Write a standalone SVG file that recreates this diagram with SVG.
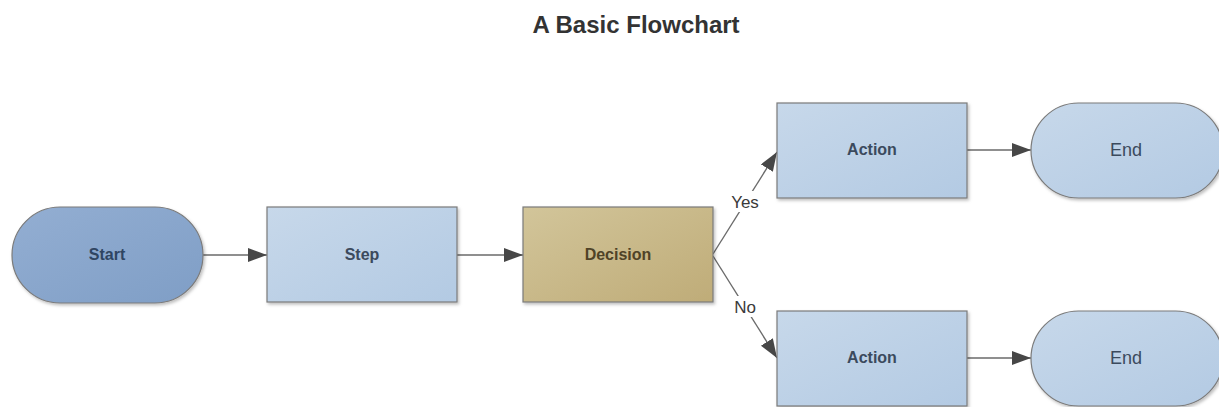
<svg xmlns="http://www.w3.org/2000/svg" width="1219" height="407" viewBox="0 0 1219 407">
<style>
.node{stroke:#7b7b7b;stroke-width:1.2}
.lbl{font-family:"Liberation Sans",Arial,sans-serif;font-size:16px;font-weight:bold;text-anchor:middle}
.conn{stroke:#6a6a6a;stroke-width:1.4;fill:none;marker-end:url(#arr)}
.elbl{font-family:"Liberation Sans",Arial,sans-serif;font-size:17px;fill:#3a3a3a;text-anchor:middle}
.title{font-family:"Liberation Sans",Arial,sans-serif;font-size:24px;font-weight:bold;fill:#333;text-anchor:middle}
</style>
<defs>
<linearGradient id="gStart" x1="0" y1="0" x2="1" y2="1"><stop offset="0" stop-color="#93aed2"/><stop offset="1" stop-color="#7f9ec6"/></linearGradient>
<linearGradient id="gBlue" x1="0" y1="0" x2="1" y2="1"><stop offset="0" stop-color="#c7d8ea"/><stop offset="1" stop-color="#b3cae3"/></linearGradient>
<linearGradient id="gDec" x1="0" y1="0" x2="1" y2="1"><stop offset="0" stop-color="#d2c59a"/><stop offset="1" stop-color="#bfac78"/></linearGradient>
<filter id="sh" x="-10%" y="-10%" width="125%" height="130%"><feDropShadow dx="1.5" dy="2" stdDeviation="1.5" flood-color="#000" flood-opacity="0.25"/></filter>
<marker id="arr" markerUnits="userSpaceOnUse" markerWidth="20" markerHeight="16" refX="19" refY="7" orient="auto"><path d="M0,0 L19,7 L0,14 z" fill="#474747"/></marker>
</defs>
<rect width="1219" height="407" fill="#fff"/>
<text class="title" x="636" y="33">A Basic Flowchart</text>
<g id="connectors">
<line class="conn" x1="203" y1="255" x2="267" y2="255"/>
<line class="conn" x1="457" y1="255" x2="523" y2="255"/>
<line class="conn" x1="713" y1="254" x2="777" y2="152"/>
<line class="conn" x1="713" y1="256" x2="777" y2="358"/>
<line class="conn" x1="967" y1="150" x2="1031" y2="150"/>
<line class="conn" x1="967" y1="358" x2="1031" y2="358"/>
<rect x="727" y="191" width="36" height="21" fill="#fff"/>
<text class="elbl" x="745" y="208">Yes</text>
<rect x="731" y="296" width="29" height="21" fill="#fff"/>
<text class="elbl" x="745" y="313">No</text>
</g>
<g id="start"><rect class="node" x="12" y="207" width="191" height="96" rx="48" fill="url(#gStart)" filter="url(#sh)"/><text class="lbl" x="107" y="260" fill="#2f4562">Start</text></g>
<g id="step"><rect class="node" x="267" y="207" width="190" height="95" fill="url(#gBlue)" filter="url(#sh)"/><text class="lbl" x="362" y="260" fill="#3b4a5d">Step</text></g>
<g id="decision"><rect class="node" x="523" y="207" width="190" height="95" fill="url(#gDec)" filter="url(#sh)"/><text class="lbl" x="618" y="260" fill="#4f4327">Decision</text></g>
<g id="action1"><rect class="node" x="777" y="103" width="190" height="95" fill="url(#gBlue)" filter="url(#sh)"/><text class="lbl" x="872" y="155" fill="#3b4a5d">Action</text></g>
<g id="action2"><rect class="node" x="777" y="311" width="190" height="95" fill="url(#gBlue)" filter="url(#sh)"/><text class="lbl" x="872" y="363" fill="#3b4a5d">Action</text></g>
<g id="end1"><rect class="node" x="1031" y="103" width="192" height="95" rx="47.5" fill="url(#gBlue)" filter="url(#sh)"/><text class="lbl" x="1126" y="156" fill="#3b4a5d" style="font-weight:normal;font-size:18px">End</text></g>
<g id="end2"><rect class="node" x="1031" y="311" width="192" height="95" rx="47.5" fill="url(#gBlue)" filter="url(#sh)"/><text class="lbl" x="1126" y="364" fill="#3b4a5d" style="font-weight:normal;font-size:18px">End</text></g>
</svg>
